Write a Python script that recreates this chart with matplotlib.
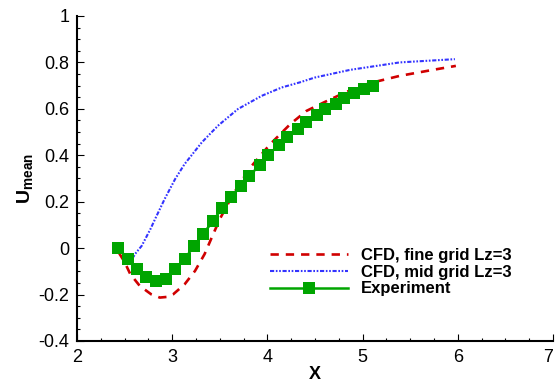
import numpy as np
import matplotlib
matplotlib.use("Agg")
import matplotlib.pyplot as plt
from matplotlib.ticker import MultipleLocator

# Experiment (markers)
x_exp = [2.43, 2.54, 2.63, 2.72, 2.83, 2.93, 3.03, 3.13, 3.23, 3.32,
         3.43, 3.52, 3.62, 3.72, 3.81, 3.92, 4.01, 4.12, 4.21, 4.32,
         4.41, 4.52, 4.61, 4.72, 4.81, 4.91, 5.01, 5.11]
u_exp = [0.0, -0.047, -0.088, -0.126, -0.143, -0.131, -0.092, -0.047, 0.009, 0.059,
         0.117, 0.171, 0.219, 0.268, 0.311, 0.358, 0.401, 0.445, 0.480, 0.513,
         0.543, 0.574, 0.600, 0.621, 0.645, 0.667, 0.686, 0.699]

# CFD, fine grid Lz=3
x_fine = [2.44, 2.50, 2.56, 2.66, 2.78, 2.87, 2.95, 3.01, 3.13, 3.24, 3.34,
          3.42, 3.50, 3.64, 3.82, 4.03, 4.24, 4.41, 4.59, 4.83, 5.07, 5.39,
          5.74, 5.98]
u_fine = [-0.02, -0.06, -0.112, -0.163, -0.199, -0.213, -0.210, -0.199, -0.156, -0.098, -0.026,
          0.05, 0.125, 0.232, 0.347, 0.448, 0.534, 0.591, 0.627, 0.673, 0.710, 0.742,
          0.768, 0.785]

# CFD, mid grid Lz=3
x_mid = [2.58, 2.62, 2.68, 2.77, 2.82, 2.92, 3.03, 3.13, 3.31, 3.48, 3.69,
         3.94, 4.15, 4.34, 4.50, 4.87, 5.39, 5.97]
u_mid = [-0.045, -0.02, 0.01, 0.081, 0.125, 0.211, 0.297, 0.362, 0.455, 0.527, 0.599,
         0.656, 0.692, 0.714, 0.735, 0.768, 0.800, 0.814]

x_ticks = [2, 3, 4, 5, 6, 7]
y_ticks = [-0.4, -0.2, 0, 0.2, 0.4, 0.6, 0.8, 1]
y_ticklabels = ['-0.4', '-0.2', '0', '0.2', '0.4', '0.6', '0.8', '1']

plt.rcParams['font.family'] = ['Liberation Sans', 'DejaVu Sans']
plt.rcParams['mathtext.fontset'] = 'custom'
plt.rcParams['mathtext.rm'] = 'Liberation Sans'
plt.rcParams['mathtext.bf'] = 'Liberation Sans:bold'
plt.rcParams['lines.scale_dashes'] = False

fig = plt.figure(figsize=(5.56, 3.86), dpi=100)
ax = fig.add_axes([0.1385, 0.1166, 0.856, 0.842])

ax.plot(x_fine, u_fine, color='#D00000', lw=1.9, dashes=(6, 5),
        label='CFD, fine grid Lz=3')
ax.plot(x_mid, u_mid, color='#3333FF', lw=1.5, dashes=(3, 1.2, 1.2, 1.2, 1.2, 1.2),
        label='CFD, mid grid Lz=3')
ax.plot(x_exp, u_exp, color='#00A500', lw=1.8, marker='s', markersize=8.5,
        markeredgewidth=0, label='Experiment')

ax.set_xlim(2, 7)
ax.set_ylim(-0.4, 1)
ax.set_xticks(x_ticks, [str(t) for t in x_ticks])
ax.xaxis.set_minor_locator(MultipleLocator(0.25))
ax.set_yticks(y_ticks, y_ticklabels)
ax.yaxis.set_minor_locator(MultipleLocator(0.05))

for s in ['top', 'right']:
    ax.spines[s].set_visible(False)
for s in ['left', 'bottom']:
    ax.spines[s].set_linewidth(1.5)

ax.tick_params(which='both', direction='in', width=0.8, labelsize=13)
ax.tick_params(which='major', length=5)
ax.tick_params(which='minor', length=2.5)
ax.tick_params(axis='x', pad=5.5)
ax.tick_params(axis='y', pad=5.5)

# keep the last x label ("7") inside the figure
ax.get_xticklabels()[-1].set_horizontalalignment('right')

ax.set_xlabel('X', fontsize=13, fontweight='bold', labelpad=0)
ax.set_ylabel(r'$\mathbf{U}_{\mathbf{mean}}$', fontsize=14, labelpad=2)

ax.legend(loc='upper left', bbox_to_anchor=(270 / 556, 1 - 248 / 386),
          bbox_transform=fig.transFigure, frameon=False, borderpad=0,
          borderaxespad=0, handlelength=4.7, handletextpad=0.75,
          labelspacing=0.1, prop={'weight': 'bold', 'size': 12})

fig.savefig('out.png', dpi=100)
